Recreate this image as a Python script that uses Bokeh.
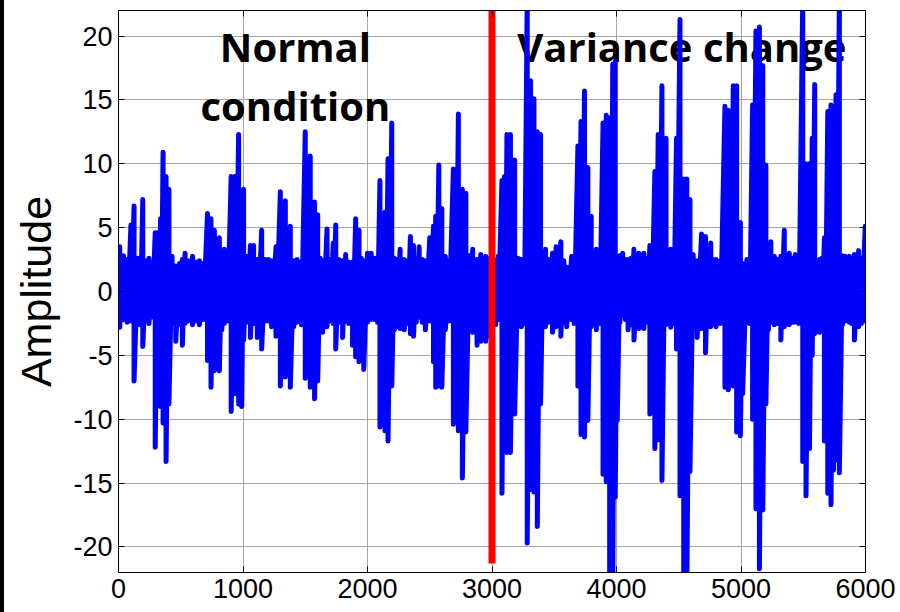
from bokeh.plotting import figure
from bokeh.models import LinearAxis, FixedTicker, Range1d, Spacer, PrintfTickFormatter
from bokeh.layouts import row
from bokeh.core.properties import value
from bokeh.embed import file_html
from bokeh.resources import INLINE

# ---- data: sample position, upper and lower excursion ----
sample_x = [
    10, 40, 70, 100, 125, 155, 175, 195, 225, 245, 270, 295, 315, 338, 358, 382, 405, 430, 460, 490,
    513, 535, 560, 595, 625, 650, 680, 715, 743, 770, 790, 810, 830, 850, 875, 905, 935, 965, 990,
    1005, 1030, 1060, 1085, 1115, 1150, 1180, 1205, 1230, 1265, 1300, 1320, 1340, 1360, 1380, 1408,
    1435, 1470, 1500, 1520, 1540, 1575, 1600, 1620, 1640, 1675, 1700, 1725, 1745, 1770, 1800, 1825,
    1850, 1880, 1905, 1932, 1950, 1970,
    2000, 2030, 2060, 2080, 2100, 2120, 2140, 2165, 2195, 2215, 2235, 2262, 2295, 2320, 2345, 2370,
    2392, 2415, 2440, 2465, 2500, 2530, 2548, 2573, 2597, 2625, 2655, 2690, 2710, 2730, 2762, 2790,
    2818, 2845, 2880, 2910, 2930, 2950, 2980,
    3010, 3030, 3050, 3080, 3100, 3120, 3148, 3182, 3210, 3236, 3260, 3283, 3310, 3337, 3364, 3390,
    3410, 3430, 3455, 3486, 3515, 3553, 3577, 3600, 3640, 3660, 3690, 3715, 3743, 3770, 3797, 3818,
    3838, 3865, 3892, 3918, 3945, 3970, 3990,
    4006, 4028, 4050, 4072, 4093, 4116, 4140, 4180, 4220, 4245, 4268, 4308, 4335, 4365, 4398, 4436,
    4460, 4482, 4510, 4540, 4565, 4590, 4616, 4648, 4683, 4715, 4737, 4757, 4778, 4800, 4835, 4871,
    4898, 4918, 4938, 4965, 4995,
    5013, 5047, 5070, 5093, 5120, 5148, 5175, 5200, 5220, 5240, 5268, 5295, 5320, 5348, 5368, 5388,
    5412, 5436, 5465, 5496, 5522, 5550, 5572, 5592, 5630, 5650, 5670, 5697, 5723, 5743, 5763, 5790,
    5815, 5838, 5871, 5890, 5911, 5945, 5968, 5998,
]
upper = [
    3.5, 2.8, 2.5, 5.2, 6.7, 2.6, 2.4, 7.2, 2.4, 2.6, 2.2, 4.6, 4.6, 5.7, 10.9, 9.0, 8.0, 2.75, 2.0, 2.2,
    2.5, 3.0, 2.4, 2.75, 2.3, 2.4, 2.2, 6.1, 5.7, 4.8, 3.0, 4.2, 2.6, 3.3, 3.0, 9.0, 9.0, 12.3, 7.1,
    8.0, 2.75, 3.6, 3.6, 2.5, 4.8, 2.5, 2.5, 2.4, 3.5, 7.8, 6.0, 7.1, 4.0, 5.1, 2.4,
    2.5, 2.3, 12.5, 8.0, 10.6, 7.0, 6.0, 2.6, 2.4, 4.9, 2.5, 3.8, 5.2, 2.5, 2.4, 2.9,
    2.3, 2.3, 5.7, 4.8, 2.6, 2.4,
    3.0, 3.0, 2.6, 2.5, 8.7, 5.0, 6.2, 10.4, 13.2, 2.6, 2.5, 3.3, 2.5, 2.4, 4.3, 3.6,
    2.6, 3.5, 2.5, 2.4, 4.2, 5.1, 5.9, 9.9, 6.5, 2.75, 2.4, 9.6, 5.0, 13.9, 8.0, 7.7,
    2.8, 3.3, 2.5, 2.9, 2.4, 2.75, 2.6,
    2.5, 2.4, 2.75, 8.7, 9.0, 12.3, 12.3, 10.3, 2.6, 2.5, 2.5, 23.0, 16.5, 15.1, 12.5, 12.3,
    2.6, 3.3, 2.5, 3.0, 3.5, 3.9, 2.4, 1.9, 2.75, 2.5, 11.4, 13.3, 15.7, 9.7, 5.9, 2.6,
    3.3, 2.5, 13.2, 13.8, 13.6, 17.8, 18.0,
    2.8, 2.8, 3.0, 2.5, 2.5, 2.6, 3.3, 3.0, 3.0, 2.6, 3.6, 9.4, 12.3, 16.1, 12.0, 3.3,
    2.6, 12.0, 21.3, 8.8, 8.8, 7.2, 2.9, 2.4, 4.5, 4.3, 3.0, 3.8, 2.5, 2.5, 2.4, 14.5,
    14.2, 8.0, 16.1, 16.1, 5.4,
    2.2, 2.5, 2.5, 14.6, 20.4, 20.7, 17.7, 9.9, 3.0, 3.9, 2.75, 2.5, 2.75, 4.8, 2.6, 3.0,
    2.6, 2.9, 2.5, 23.0, 10.0, 10.0, 12.0, 16.2, 2.5, 2.6, 4.2, 14.1, 14.6, 14.0, 15.4, 23.0,
    2.8, 2.75, 2.75, 2.5, 2.9, 3.2, 2.6, 5.1,
]
lower = [
    -2.8, -2.2, -2.4, -2.3, -7.0, -2.5, -2.6, -4.3, -2.2, -2.5, -2.0, -12.2, -7.5, -9.0, -10.3, -13.3, -8.8, -2.5, -3.9, -2.6,
    -4.2, -2.5, -2.3, -2.6, -2.3, -2.6, -2.2, -5.4, -7.5, -6.2, -2.5, -6.2, -3.0, -2.5, -2.3, -9.4, -8.0, -8.8, -9.0,
    -3.8, -2.4, -3.6, -2.5, -3.6, -4.5, -2.3, -2.3, -2.75, -3.5, -7.4, -5.0, -6.7, -3.0, -7.5, -2.75,
    -2.4, -2.6, -6.8, -4.5, -7.5, -8.4, -7.0, -2.5, -3.2, -2.75, -2.3, -2.5, -4.5, -2.4, -3.6, -2.3,
    -2.5, -4.2, -5.1, -5.5, -2.5, -6.1,
    -2.4, -2.2, -2.2, -2.4, -10.6, -7.0, -10.9, -11.7, -7.4, -3.0, -2.75, -2.9, -3.0, -2.5, -3.3, -3.5,
    -2.4, -2.0, -2.4, -3.0, -2.3, -5.5, -7.5, -7.4, -7.5, -3.0, -2.3, -10.4, -6.0, -10.9, -14.6, -11.0,
    -2.6, -3.2, -4.2, -3.9, -2.8, -3.9, -3.5,
    -2.5, -2.6, -2.2, -15.8, -12.0, -12.6, -12.6, -9.6, -2.5, -2.75, -2.5, -19.7, -15.5, -15.7, -18.4, -8.8,
    -2.5, -2.75, -2.4, -3.2, -2.75, -3.5, -2.4, -2.75, -2.2, -2.5, -7.4, -11.2, -11.4, -10.1, -2.75, -2.6,
    -3.0, -2.5, -14.3, -14.9, -23.0, -23.0, -16.1,
    -10.1, -2.4, -1.9, -2.2, -3.0, -2.6, -3.8, -2.9, -2.9, -2.4, -9.6, -12.3, -11.6, -14.8, -2.6, -2.8,
    -2.5, -4.5, -16.0, -23.0, -23.0, -14.1, -2.75, -3.6, -2.9, -4.8, -2.5, -2.75, -2.5, -2.75, -2.5, -7.5,
    -7.7, -5.0, -7.4, -11.0, -11.3,
    -8.0, -2.4, -2.5, -10.0, -17.0, -21.7, -17.1, -8.8, -3.0, -2.4, -2.6, -2.5, -3.8, -2.75, -2.5, -2.6,
    -2.4, -2.4, -2.5, -13.3, -16.0, -12.3, -5.0, -3.3, -3.2, -2.6, -11.7, -15.8, -16.7, -14.0, -13.2, -14.2,
    -2.6, -2.3, -2.4, -2.5, -3.8, -2.75, -2.5, -2.3,
]

change_point = 3000
x_ticks = [0, 1000, 2000, 3000, 4000, 5000, 6000]
y_ticks = [-20, -15, -10, -5, 0, 5, 10, 15, 20]
annotations = ["Normal", "condition", "Variance change"]

# interleave upper/lower excursions into one trace
trace_x, trace_y = [], []
for sx, hi, lo in zip(sample_x, upper, lower):
    trace_x += [sx, sx]
    trace_y += [hi, lo]

p = figure(width=896, height=612, output_backend="svg", toolbar_location=None,
           x_range=Range1d(0, 6000), y_range=Range1d(-22, 22),
           min_border_left=114, min_border_right=35, min_border_top=10, min_border_bottom=40)
p.background_fill_color = "white"
p.border_fill_color = "white"
p.outline_line_color = "black"
p.outline_line_width = 1

for ax in (p.xaxis[0], p.yaxis[0]):
    ax.axis_line_color = "black"
    ax.major_tick_in = 6
    ax.major_tick_out = 0
    ax.minor_tick_line_color = None
    ax.major_tick_line_color = "black"
    ax.major_label_text_font = "Liberation Sans"
    ax.major_label_text_font_size = "27px"
    ax.major_label_text_color = "black"
    ax.formatter = PrintfTickFormatter(format="%d")
p.xaxis.ticker = FixedTicker(ticks=x_ticks)
p.yaxis.ticker = FixedTicker(ticks=y_ticks)
p.xaxis.major_label_standoff = 6
p.yaxis.major_label_standoff = 6
p.yaxis.axis_label = "Amplitude"
p.yaxis.axis_label_text_font = "Liberation Sans"
p.yaxis.axis_label_text_font_style = "normal"
p.yaxis.axis_label_text_font_size = "43px"
p.yaxis.axis_label_text_color = "black"
p.yaxis.axis_label_standoff = 10

for side, ticks in (("right", y_ticks), ("above", x_ticks)):
    ax = LinearAxis(ticker=FixedTicker(ticks=ticks))
    ax.major_label_text_font_size = "2px"
    ax.major_label_text_color = None
    ax.major_tick_in = 6
    ax.major_tick_out = 0
    ax.minor_tick_line_color = None
    ax.axis_line_color = "black"
    ax.major_label_standoff = 0
    p.add_layout(ax, side)

p.xgrid.grid_line_color = "#a6a6a6"
p.ygrid.grid_line_color = "#a6a6a6"
p.xgrid.ticker = FixedTicker(ticks=x_ticks)
p.ygrid.ticker = FixedTicker(ticks=y_ticks)

txt = dict(text_font=value("Open Sans"), text_font_style="bold", text_font_size="40px",
           text_color="black", text_align="center", text_baseline="alphabetic")
p.text(x=[1421, 1421, 4525], y=[19.2, 14.6, 19.2], text=annotations, **txt)

p.line(trace_x, trace_y, line_color="#0000ff", line_width=5, line_join="round", line_cap="round")

p.segment(x0=[change_point], y0=[-21.3], x1=[change_point], y1=[22.5],
          line_color="#ff0000", line_width=7)

edge = Spacer(width=4, height=612, styles={"background-color": "black"})
layout = row(edge, p, spacing=0)
open("out.html", "w").write(file_html(layout, INLINE))
